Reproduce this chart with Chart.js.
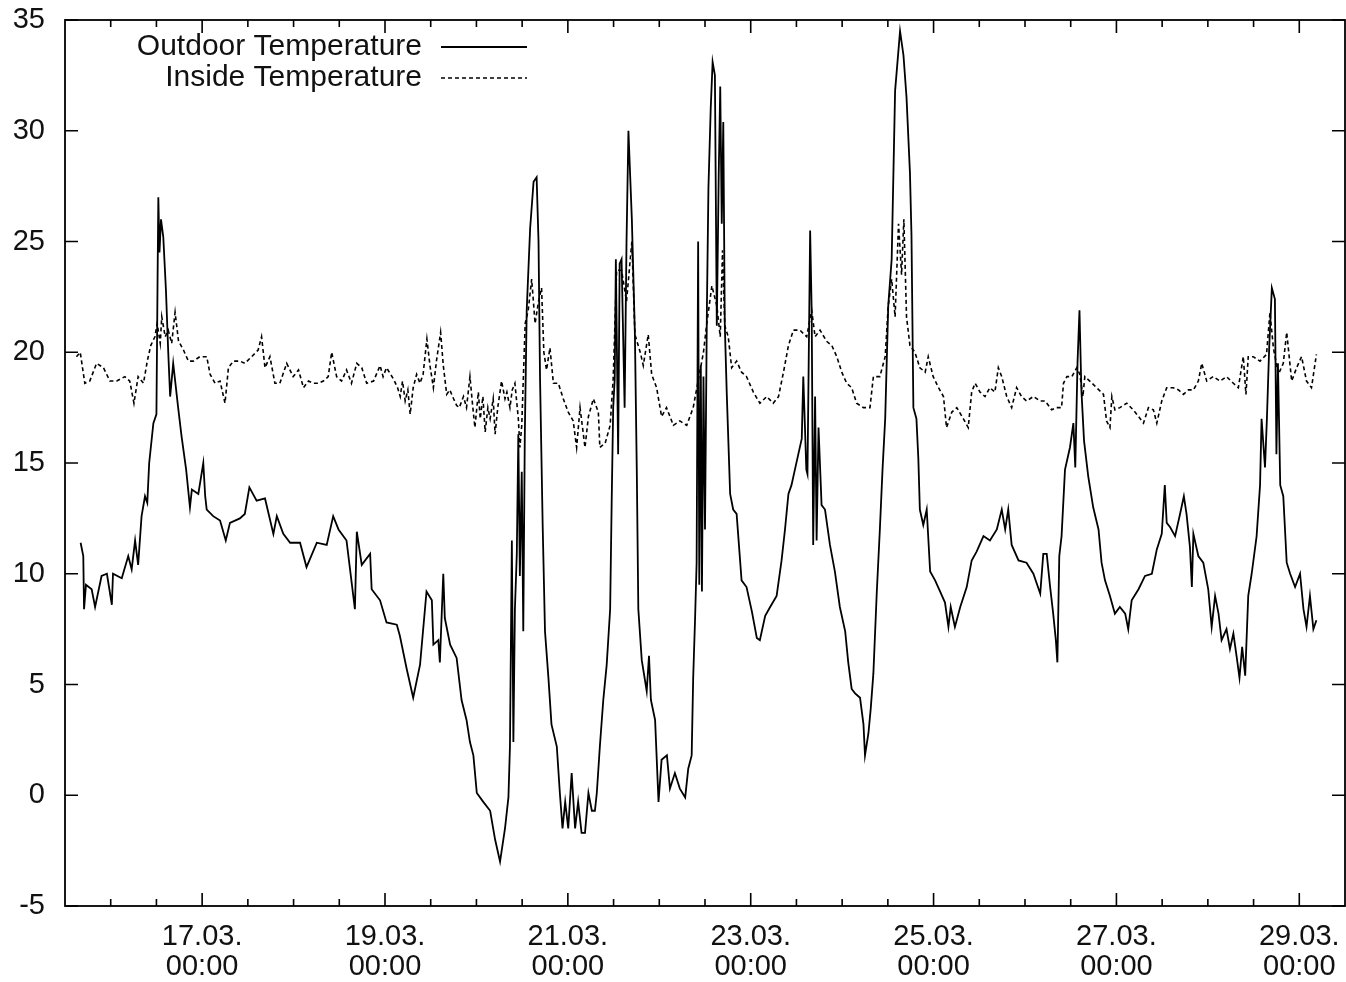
<!DOCTYPE html>
<html>
<head>
<meta charset="utf-8">
<title>Temperatures</title>
<script src="https://cdn.jsdelivr.net/npm/chart.js@4.4.1/dist/chart.umd.min.js"></script>
<style>
  body { margin: 0; background: #fff; }
  #wrap { width: 1346px; height: 982px; }
</style>
</head>
<body>
<div id="wrap"><canvas id="tempChart" width="1346" height="982"></canvas></div>
<script>
// time axis is in hours since 15.03. 00:00
var outdoorHours = [16.1, 16.8, 17.0, 17.5, 19.0, 19.9, 21.6, 23.0, 24.3, 24.6, 26.9, 28.6, 29.5, 30.4, 31.2, 32.1, 33.0, 33.6, 34.1, 35.2,
  36.0, 36.3, 36.5, 36.8, 37.2, 37.8, 38.5, 39.1, 39.6, 40.4, 41.7, 42.6, 43.8, 44.8, 45.3, 47.0, 48.3, 48.8, 49.2, 50.9,
  52.7, 54.2, 55.3, 57.9, 59.2, 60.4, 62.3, 64.5, 66.7, 67.6, 69.3, 71.1, 73.7, 75.4, 78.1, 80.7, 82.4, 83.8, 85.9, 88.1,
  88.6, 89.9, 92.1, 92.5, 94.7, 96.4, 99.1, 99.9, 101.7, 103.4, 105.2, 106.9, 108.3, 108.7, 110.0, 110.4, 111.3, 111.7, 113.1, 114.8,
  116.1, 117.4, 118.3, 119.2, 120.1, 121.8, 123.6, 124.9, 126.2, 127.5, 128.4, 128.8, 129.3, 129.7, 130.1, 130.6, 131.0, 131.4, 131.9, 132.3,
  132.7, 133.2, 134.1, 135.0, 135.8, 136.3, 136.7, 137.4, 138.0, 138.9, 139.7, 141.1, 141.9, 142.6, 143.3, 144.1, 145.0, 145.9, 146.7, 147.6,
  148.5, 149.4, 150.3, 151.1, 151.6, 152.4, 153.3, 154.2, 155.1, 155.5, 155.9, 156.3, 156.6, 157.2, 157.6, 158.1, 158.9, 159.4, 159.9, 160.8,
  161.6, 162.1, 162.5, 163.4, 164.7, 165.3, 165.8, 166.9, 167.8, 168.6, 170.0, 170.8, 172.1, 173.4, 174.8, 175.6, 176.5, 176.9, 177.4, 177.8,
  178.2, 178.5, 178.9, 179.2, 179.6, 180.0, 180.5, 180.9, 181.5, 182.0, 182.6, 183.1, 183.6, 184.0, 184.4, 184.8, 185.2, 185.7, 186.6, 187.4,
  188.3, 189.6, 190.9, 192.3, 193.6, 194.4, 195.8, 197.1, 198.8, 200.1, 201.0, 201.9, 202.7, 203.6, 204.5, 205.4, 205.8, 206.6, 206.9, 207.6,
  208.0, 208.4, 208.9, 209.3, 209.8, 210.6, 211.5, 212.8, 214.1, 215.4, 216.8, 217.6, 218.5, 219.4, 220.7, 221.6, 222.0, 222.9, 223.5, 224.2,
  225.1, 225.9, 226.6, 227.3, 228.1, 229.0, 229.9, 231.2, 232.1, 232.9, 233.8, 234.2, 234.7, 235.5, 236.0, 236.4, 237.3, 238.2, 239.1, 240.4,
  241.7, 243.0, 243.9, 244.5, 245.6, 247.0, 248.7, 250.0, 251.3, 253.1, 254.8, 256.6, 257.9, 258.8, 259.6, 260.5, 262.3, 264.4, 266.2, 268.0,
  268.8, 269.7, 270.6, 271.4, 272.1, 272.5, 273.0, 273.6, 274.5, 275.8, 276.7, 277.2, 277.8, 278.3, 278.8, 279.5, 280.6, 281.9, 283.3, 284.1,
  285.0, 286.3, 287.6, 288.9, 290.3, 291.1, 292.0, 293.8, 295.5, 297.3, 298.6, 299.9, 300.7, 301.2, 302.1, 303.4, 304.7, 305.7, 306.4, 307.3,
  307.8, 308.2, 309.5, 310.8, 312.1, 313.0, 313.9, 314.8, 315.6, 316.9, 317.8, 318.7, 319.6, 320.3, 321.0, 321.8, 322.6, 323.5, 324.8, 325.7,
  326.1, 327.0, 327.5, 328.1, 328.8, 329.6, 330.0, 330.4, 331.0, 331.8, 332.7, 333.6, 334.9, 336.2, 337.1, 337.9, 338.8, 339.7, 340.5];

var outdoorTemps = [11.4, 10.8, 8.4, 9.5, 9.3, 8.5, 9.9, 10.0, 8.6, 10.0, 9.8, 10.8, 10.2, 11.5, 10.4, 12.6, 13.5, 13.2, 15.0, 16.8,
  17.2, 23.3, 27.0, 24.5, 26.0, 25.2, 22.8, 20.0, 18.0, 19.5, 17.5, 16.2, 14.7, 13.0, 13.8, 13.6, 15.0, 13.5, 12.9, 12.6,
  12.4, 11.5, 12.3, 12.5, 12.7, 13.9, 13.3, 13.4, 11.8, 12.6, 11.8, 11.4, 11.4, 10.3, 11.4, 11.3, 12.6, 12.0, 11.5, 8.4,
  11.9, 10.4, 10.9, 9.3, 8.8, 7.8, 7.7, 7.2, 5.7, 4.4, 5.9, 9.2, 8.8, 6.8, 7.0, 6.0, 10.0, 8.0, 6.8, 6.2,
  4.3, 3.4, 2.4, 1.8, 0.1, -0.3, -0.7, -2.0, -3.0, -1.5, -0.1, 2.2, 11.5, 2.4, 8.4, 10.9, 16.3, 9.9, 14.6, 7.4,
  16.3, 21.9, 25.6, 27.7, 27.9, 25.0, 18.8, 12.1, 7.4, 5.3, 3.2, 2.2, 0.1, -1.5, -0.3, -1.5, 1.0, -1.5, -0.3, -1.7,
  -1.7, 0.1, -0.7, -0.7, 0.1, 2.2, 4.3, 5.9, 8.4, 13.2, 17.5, 18.8, 24.2, 15.4, 24.0, 24.2, 17.5, 25.0, 30.0, 26.0,
  20.8, 14.6, 8.4, 6.1, 4.7, 6.3, 4.3, 3.4, -0.3, 1.6, 1.8, 0.3, 1.0, 0.3, -0.1, 1.2, 1.8, 5.3, 8.0, 10.5,
  25.0, 9.5, 19.4, 9.2, 18.9, 12.0, 22.0, 27.4, 31.0, 33.1, 32.5, 21.2, 28.0, 32.0, 25.8, 30.4, 21.2, 18.2, 13.6, 12.9,
  12.7, 9.7, 9.4, 8.3, 7.1, 7.0, 8.1, 8.5, 9.0, 10.6, 12.0, 13.6, 14.0, 14.7, 15.4, 16.1, 18.9, 14.7, 14.5, 25.5,
  21.9, 11.3, 18.0, 11.5, 16.6, 13.1, 12.9, 11.3, 10.1, 8.5, 7.4, 6.0, 4.8, 4.6, 4.4, 3.2, 1.8, 2.8, 3.9, 5.5,
  9.2, 12.0, 14.7, 17.0, 22.1, 24.2, 31.8, 34.5, 33.4, 31.5, 28.1, 25.3, 17.5, 17.0, 15.2, 12.9, 12.2, 12.9, 10.1, 9.7,
  9.2, 8.7, 7.6, 8.5, 7.6, 8.5, 9.4, 10.6, 11.0, 11.7, 11.5, 12.0, 12.9, 12.0, 12.9, 11.3, 10.6, 10.5, 10.0, 9.1,
  10.9, 10.9, 9.4, 8.2, 7.0, 6.0, 10.8, 11.7, 14.7, 15.7, 16.8, 14.8, 19.6, 21.9, 18.3, 16.0, 14.4, 13.0, 12.0, 10.5,
  9.7, 9.0, 8.2, 8.5, 8.2, 7.5, 8.8, 9.3, 9.9, 10.0, 11.1, 11.8, 14.0, 12.3, 12.1, 11.7, 12.7, 13.5, 12.7, 11.2,
  9.4, 11.8, 10.8, 10.5, 9.3, 7.6, 9.0, 8.2, 7.0, 7.5, 6.6, 7.3, 6.2, 5.3, 6.7, 5.4, 9.0, 10.0, 11.7, 14.0,
  17.0, 14.8, 17.0, 20.2, 22.9, 22.4, 15.4, 19.5, 14.0, 13.5, 10.5, 10.0, 9.4, 10.0, 8.4, 7.6, 9.0, 7.5, 7.9];

var insideHours = [15.0, 16.0, 17.2, 18.5, 20.3, 22.1, 23.8, 25.6, 27.7, 29.0, 30.1, 31.2, 32.6, 33.6, 34.5, 35.6, 36.2, 37.0, 37.4, 38.3,
  39.1, 40.0, 40.9, 41.8, 43.1, 44.4, 45.7, 47.4, 49.2, 50.1, 51.4, 52.7, 54.0, 54.9, 56.2, 57.9, 59.2, 61.0, 62.7, 63.6,
  64.5, 65.8, 67.1, 68.4, 70.2, 71.9, 73.3, 74.6, 75.9, 77.2, 78.5, 79.8, 81.1, 82.0, 83.3, 84.6, 85.9, 87.2, 88.6, 89.9,
  91.2, 93.0, 94.7, 95.5, 96.4, 98.2, 99.3, 100.0, 100.6, 101.3, 102.0, 102.6, 103.4, 104.3, 105.2, 106.0, 107.0, 107.8, 108.7, 109.5,
  110.6, 111.3, 112.2, 113.0, 114.0, 114.8, 115.5, 116.6, 117.4, 118.3, 119.0, 119.6, 120.5, 121.0, 121.7, 122.3, 123.0, 123.6, 124.4, 124.9,
  125.6, 126.6, 127.5, 128.0, 128.8, 129.4, 130.1, 131.0, 131.4, 131.9, 132.8, 133.6, 134.5, 135.4, 136.3, 137.1, 137.7, 138.4, 139.3,
  140.2, 141.5, 142.8, 144.1, 145.4, 146.3, 147.2, 148.5, 149.4, 150.7, 152.0, 152.4, 153.8, 155.1, 155.9, 156.8, 158.1, 159.4, 160.8, 161.6,
  163.0, 163.8, 165.1, 166.0, 167.3, 168.6, 169.9, 171.7, 173.4, 175.2, 176.9, 178.3, 179.6, 180.4, 181.8, 183.1, 184.0, 184.6, 185.2, 186.1,
  187.0, 188.3, 189.6, 190.9, 192.7, 194.4, 196.2, 197.9, 199.3, 200.6, 201.9, 203.2, 204.9, 206.7, 208.0, 208.9, 210.2, 211.9, 213.3, 214.6,
  215.9, 217.2, 218.5, 219.8, 221.6, 223.3, 224.2, 225.9, 227.3, 228.1, 229.0, 229.9, 230.8, 231.6, 232.2, 232.9, 233.8, 235.1, 236.4, 237.8,
  238.6, 239.9, 241.3, 242.6, 243.4, 244.8, 246.1, 247.8, 249.1, 250.0, 250.9, 252.2, 253.5, 254.8, 256.1, 257.0, 257.9, 259.2, 260.5, 261.8,
  263.1, 264.4, 266.2, 268.0, 269.3, 271.0, 272.3, 273.6, 274.1, 275.0, 276.3, 277.6, 278.4, 279.2, 279.7, 281.0, 282.8, 284.6, 285.4, 286.3,
  286.8, 287.6, 288.9, 290.7, 292.4, 293.8, 295.1, 296.4, 297.7, 298.6, 299.9, 301.2, 302.9, 304.3, 305.6, 306.9, 308.2, 309.5, 310.4, 311.7,
  313.4, 315.2, 316.9, 318.7, 320.0, 321.3, 322.0, 322.6, 323.9, 325.7, 327.4, 328.3, 329.2, 330.5, 331.8, 332.7, 334.0, 335.3, 336.6, 337.9,
  339.2, 340.5];

var insideTemps = [19.8, 20.0, 18.6, 18.7, 19.5, 19.3, 18.7, 18.7, 18.9, 18.7, 17.7, 18.9, 18.6, 19.6, 20.3, 20.7, 21.3, 20.4, 21.6, 20.7,
  21.0, 20.4, 21.8, 20.5, 20.1, 19.6, 19.6, 19.8, 19.8, 19.0, 18.6, 18.7, 17.7, 19.3, 19.6, 19.6, 19.5, 19.8, 20.1, 20.7,
  19.3, 19.8, 18.6, 18.6, 19.5, 18.9, 19.2, 18.4, 18.7, 18.6, 18.6, 18.7, 18.9, 20.0, 18.9, 18.7, 19.2, 18.6, 19.5, 19.3,
  18.6, 18.7, 19.4, 18.9, 19.3, 18.8, 18.4, 18.0, 18.7, 17.8, 18.3, 17.2, 18.4, 19.0, 18.6, 19.0, 20.6, 19.4, 18.4, 19.6,
  20.9, 19.4, 18.1, 18.3, 17.9, 17.6, 17.5, 18.0, 17.5, 18.9, 17.6, 16.6, 18.2, 17.0, 18.0, 16.4, 17.5, 17.0, 17.9, 16.3,
  17.5, 18.7, 17.9, 18.2, 17.5, 18.3, 18.6, 17.0, 15.7, 16.7, 21.3, 21.9, 23.3, 21.3, 22.3, 22.9, 20.0, 19.2, 20.2,
  18.6, 18.6, 17.9, 17.3, 16.9, 15.7, 17.5, 15.7, 17.1, 17.9, 17.3, 15.7, 15.9, 16.7, 18.8, 23.7, 23.7, 22.3, 25.0, 20.8,
  20.0, 19.4, 20.8, 19.0, 18.4, 17.1, 17.5, 16.7, 16.9, 16.7, 17.5, 18.8, 20.0, 21.2, 23.0, 22.1, 20.7, 24.6, 21.2, 20.7,
  19.3, 19.6, 19.1, 18.9, 18.2, 17.7, 18.0, 17.7, 18.0, 19.1, 20.3, 21.0, 21.0, 20.7, 21.9, 20.7, 21.0, 20.5, 20.3, 19.8,
  19.1, 18.6, 18.4, 17.7, 17.5, 17.5, 18.9, 18.9, 19.8, 22.1, 23.3, 21.6, 25.8, 23.5, 26.0, 21.6, 20.3, 20.0, 19.3, 19.1,
  19.8, 18.9, 18.4, 18.0, 16.6, 17.3, 17.5, 17.0, 16.6, 18.2, 18.6, 18.2, 18.0, 18.4, 18.2, 19.3, 18.9, 18.0, 17.5, 18.4,
  18.0, 17.8, 18.0, 17.8, 17.8, 17.4, 17.5, 17.5, 18.6, 18.9, 18.9, 19.3, 19.0, 18.0, 18.9, 18.7, 18.4, 18.1, 16.9, 16.6,
  18.0, 17.4, 17.5, 17.7, 17.4, 17.1, 16.8, 17.5, 17.4, 16.8, 17.8, 18.4, 18.4, 18.3, 18.1, 18.3, 18.3, 18.7, 19.5, 18.7,
  18.9, 18.7, 18.9, 18.6, 18.4, 19.8, 18.1, 19.8, 19.8, 19.6, 19.9, 21.8, 20.2, 19.0, 19.5, 20.9, 18.7, 19.3, 19.8, 18.7,
  18.4, 19.9];

// labelled midnights on the time axis
var dayTicks = [48, 96, 144, 192, 240, 288, 336];
var dayLabels = ['17.03.', '19.03.', '21.03.', '23.03.', '25.03.', '27.03.', '29.03.'];
var tempTicks = [-5, 0, 5, 10, 15, 20, 25, 30, 35];

var seriesNames = ['Outdoor Temperature', 'Inside Temperature'];
var fontFamily = '"Liberation Sans", Arial, Helvetica, sans-serif';
var textColor = '#111';

function toPoints(hours, temps) {
  return hours.map(function (h, i) { return { x: h, y: temps[i] }; });
}

// keep the labels from pushing the plot box inwards
function noLabelPadding(scale) {
  scale.paddingTop = 0;
  scale.paddingBottom = 0;
  scale.paddingLeft = 0;
  scale.paddingRight = 0;
}

// draws the box, inward tics on all four sides and the key in the top left
var framePlugin = {
  id: 'frame',
  afterDraw: function (chart) {
    var ctx = chart.ctx;
    var area = chart.chartArea;
    var xs = chart.scales.x;
    var ys = chart.scales.y;

    ctx.save();
    ctx.strokeStyle = '#000';
    ctx.lineWidth = 1.8;
    ctx.strokeRect(area.left, area.top, area.right - area.left, area.bottom - area.top);

    ctx.beginPath();
    ctx.lineWidth = 1.6;
    tempTicks.forEach(function (v) {
      var py = ys.getPixelForValue(v);
      ctx.moveTo(area.left, py);
      ctx.lineTo(area.left + 13, py);
      ctx.moveTo(area.right, py);
      ctx.lineTo(area.right - 13, py);
    });
    for (var h = xs.min + 12; h < xs.max; h += 12) {
      var px = xs.getPixelForValue(h);
      var len = dayTicks.indexOf(h) >= 0 ? 13 : 7;
      ctx.moveTo(px, area.bottom);
      ctx.lineTo(px, area.bottom - len);
      ctx.moveTo(px, area.top);
      ctx.lineTo(px, area.top + len);
    }
    ctx.stroke();

    // key
    ctx.font = '30px ' + fontFamily;
    ctx.fillStyle = textColor;
    ctx.textAlign = 'right';
    ctx.textBaseline = 'middle';
    var rows = [47, 78];
    chart.data.datasets.forEach(function (ds, i) {
      ctx.fillText(ds.label, 422, rows[i]);
      ctx.beginPath();
      ctx.lineWidth = ds.borderWidth;
      ctx.setLineDash(ds.borderDash || []);
      ctx.moveTo(441, rows[i]);
      ctx.lineTo(527, rows[i]);
      ctx.stroke();
    });
    ctx.restore();
  }
};

var ctx = document.getElementById('tempChart').getContext('2d');

var chart = new Chart(ctx, {
  type: 'line',
  data: {
    datasets: [
      {
        label: seriesNames[0],
        data: toPoints(outdoorHours, outdoorTemps),
        borderColor: '#000',
        borderWidth: 1.8,
        pointRadius: 0,
        tension: 0,
        fill: false
      },
      {
        label: seriesNames[1],
        data: toPoints(insideHours, insideTemps),
        borderColor: '#000',
        borderWidth: 1.6,
        borderDash: [4, 3],
        pointRadius: 0,
        tension: 0,
        fill: false
      }
    ]
  },
  options: {
    responsive: false,
    animation: false,
    devicePixelRatio: 1,
    layout: { padding: { top: 20, right: 1, left: 0, bottom: 0 } },
    plugins: {
      legend: { display: false },
      tooltip: { enabled: false }
    },
    scales: {
      x: {
        type: 'linear',
        min: 12,
        max: 348,
        grid: { display: false, drawTicks: false },
        border: { display: false },
        afterBuildTicks: function (scale) {
          scale.ticks = dayTicks.map(function (v) { return { value: v }; });
        },
        afterFit: function (scale) {
          scale.height = 76;
          noLabelPadding(scale);
        },
        ticks: {
          autoSkip: false,
          maxRotation: 0,
          padding: 16,
          color: textColor,
          font: { family: fontFamily, size: 29, lineHeight: 1.03 },
          callback: function (value) {
            var i = dayTicks.indexOf(value);
            return i >= 0 ? [dayLabels[i], '00:00'] : '';
          }
        }
      },
      y: {
        min: -5,
        max: 35,
        grid: { display: false, drawTicks: false },
        border: { display: false },
        afterFit: function (scale) {
          scale.width = 65;
          noLabelPadding(scale);
        },
        ticks: {
          stepSize: 5,
          padding: 20,
          color: textColor,
          font: { family: fontFamily, size: 29 }
        }
      }
    }
  },
  plugins: [framePlugin]
});
</script>
</body>
</html>
